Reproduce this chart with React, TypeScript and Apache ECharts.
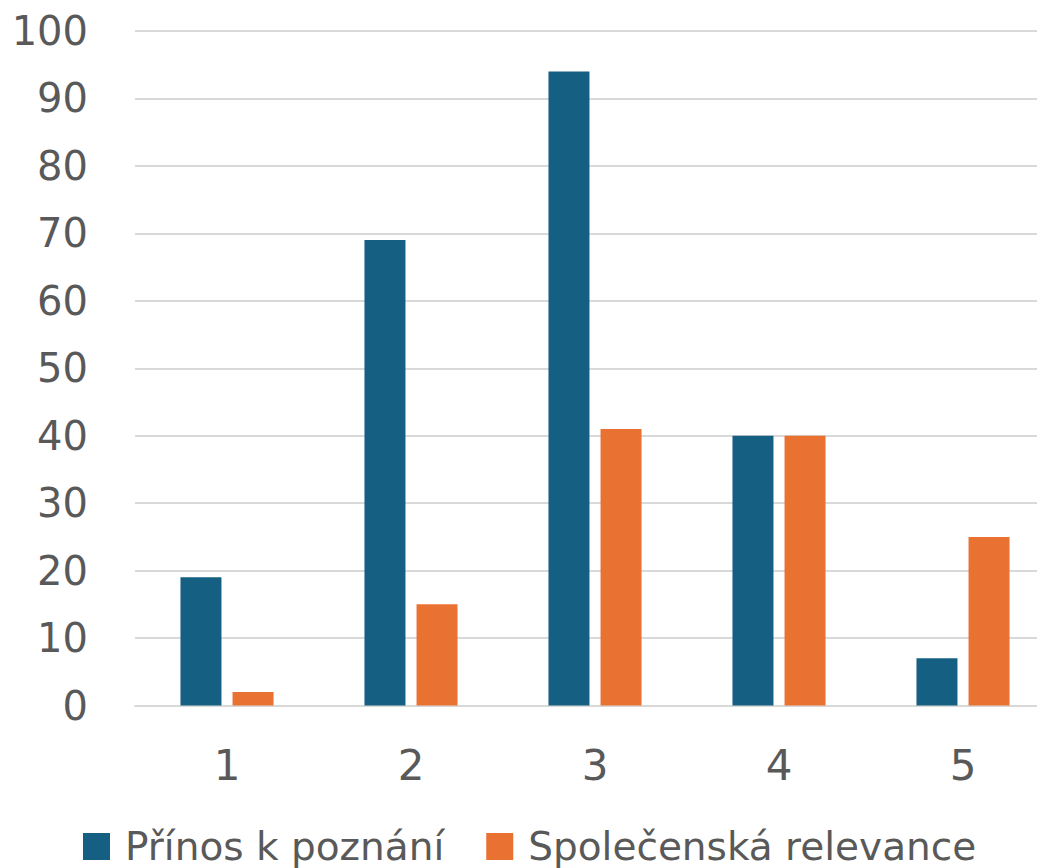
import React, { useEffect, useRef } from "react";
import * as echarts from "echarts";

const categories = ["1", "2", "3", "4", "5"];
const seriesNames = ["Přínos k poznání", "Společenská relevance"];
const prinos = [19, 69, 94, 40, 7];
const relevance = [2, 15, 41, 40, 25];
const colors = ["#156082", "#E97132"];

export default function App() {
  const ref = useRef<HTMLDivElement>(null);
  useEffect(() => {
    if (!ref.current) return;
    const chart = echarts.init(ref.current, null, { renderer: "svg" });
    const font = "DejaVu Sans";
    chart.setOption({
      animation: false,
      color: colors,
      textStyle: { fontFamily: font, color: "#595959" },
      grid: { left: 135, top: 31, right: 0, bottom: 162.5, containLabel: false },
      legend: {
        data: seriesNames,
        left: 83,
        top: 827,
        padding: 0,
        icon: "rect",
        itemWidth: 27,
        itemHeight: 27,
        itemGap: 42,
        textStyle: {
          fontFamily: font,
          fontSize: 39,
          color: "#595959",
          lineHeight: 36,
          padding: [0, 0, 0, 10],
        },
      },
      xAxis: {
        type: "category",
        data: categories,
        axisTick: { show: false },
        axisLine: { show: true, lineStyle: { color: "#d9d9d9", width: 2 } },
        axisLabel: { fontFamily: font, fontSize: 42, color: "#595959", margin: 39 },
      },
      yAxis: {
        type: "value",
        min: 0,
        max: 100,
        interval: 10,
        axisLine: { show: false },
        axisTick: { show: false },
        splitLine: { lineStyle: { color: "#d9d9d9", width: 2 } },
        axisLabel: { fontFamily: font, fontSize: 40, color: "#595959", margin: 47 },
      },
      series: [
        {
          name: seriesNames[0],
          type: "bar",
          data: prinos,
          barWidth: 41,
          barGap: "27%",
          itemStyle: { color: colors[0] },
        },
        {
          name: seriesNames[1],
          type: "bar",
          data: relevance,
          barWidth: 41,
          barGap: "27%",
          itemStyle: { color: colors[1] },
        },
      ],
    });
    return () => chart.dispose();
  }, []);
  return (
    <div
      style={{
        position: "fixed",
        left: 0,
        top: 0,
        width: 1037,
        height: 868,
        overflow: "hidden",
        background: "#fff",
      }}
    >
      <div ref={ref} style={{ width: 1055, height: 868 }} />
    </div>
  );
}
